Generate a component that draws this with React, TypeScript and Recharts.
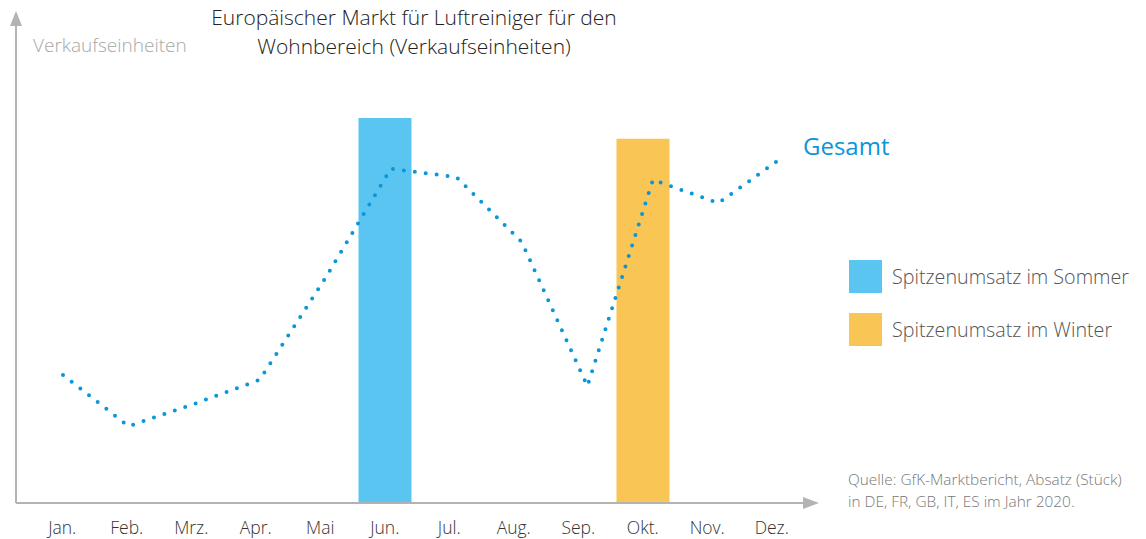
import React from 'react';
import { ComposedChart, Bar, Line, XAxis, YAxis } from 'recharts';

// Monthly categories
const months = ['Jan.', 'Feb.', 'Mrz.', 'Apr.', 'Mai', 'Jun.', 'Jul.', 'Aug.', 'Sep.', 'Okt.', 'Nov.', 'Dez.'];
// Total sales (relative units)
const gesamt = [26.5, 15.9, 20.5, 25.5, 46.5, 69.2, 67.5, 54.0, 24.2, 66.9, 62.1, 71.8];
// Peak bars
const sommer = [null, null, null, null, null, 79.7, null, null, null, null, null, null];
const winter = [null, null, null, null, null, null, null, null, null, 75.4, null, null];

const legendItems = [
    { label: 'Spitzenumsatz im Sommer', color: '#5bc5f2' },
    { label: 'Spitzenumsatz im Winter', color: '#f9c555' },
];

const data = months.map((m, i) => ({
    month: m,
    idx: i,
    gesamt: gesamt[i],
    sommer: sommer[i],
    winter: winter[i],
}));

const FONT = '"Open Sans", "Noto Sans", sans-serif';
const AXIS_GRAY = '#b3b3b3';

export default function App() {
    return (
        <div style={{ position: 'absolute', left: 0, top: 0, width: 1146, height: 539, background: '#fff', fontFamily: FONT }}>
            <ComposedChart
                width={1146}
                height={539}
                data={data}
                margin={{ top: 20, right: 341, left: 15, bottom: 6 }}
            >
                <XAxis
                    dataKey="month"
                    height={30}
                    padding={{ left: 14, right: 1 }}
                    axisLine={{ stroke: AXIS_GRAY, strokeWidth: 2 }}
                    tickLine={false}
                    tickMargin={13}
                    tick={{ fontSize: 17.5, fill: '#333', fontFamily: FONT, fontWeight: 300 }}
                    interval={0}
                />
                <XAxis xAxisId="line" dataKey="idx" type="number" domain={[-0.717, 11.32]} hide />
                <YAxis
                    domain={[0, 100]}
                    width={1}
                    tick={false}
                    tickLine={false}
                    axisLine={{ stroke: AXIS_GRAY, strokeWidth: 2 }}
                />
                <Bar dataKey="sommer" stackId="peak" fill="#5bc5f2" barSize={53} isAnimationActive={false} />
                <Bar dataKey="winter" stackId="peak" fill="#f9c555" barSize={53} isAnimationActive={false} />
                <Line
                    xAxisId="line"
                    type="linear"
                    dataKey="gesamt"
                    stroke="#0a96d9"
                    strokeWidth={4}
                    strokeDasharray="0 11"
                    strokeLinecap="round"
                    dot={false}
                    activeDot={false}
                    isAnimationActive={false}
                />
            </ComposedChart>

            {/* Arrow heads */}
            <svg width={1146} height={539} style={{ position: 'absolute', left: 0, top: 0, pointerEvents: 'none' }}>
                <polygon points="16,11 10,26 22,26" fill={AXIS_GRAY} />
                <polygon points="819,503 803,497 803,509" fill={AXIS_GRAY} />
            </svg>

            {/* Title */}
            <div style={{ position: 'absolute', left: 164, top: 3, width: 500, textAlign: 'center', fontSize: 21, lineHeight: '29px', color: '#222', fontWeight: 300, whiteSpace: 'nowrap' }}>
                Europäischer Markt für Luftreiniger für den<br />Wohnbereich (Verkaufseinheiten)
            </div>

            <div style={{ position: 'absolute', left: 33, top: 32, fontSize: 19, color: '#a8a8a8', fontWeight: 300, whiteSpace: 'nowrap' }}>
                Verkaufseinheiten
            </div>

            <div style={{ position: 'absolute', left: 803, top: 129, fontSize: 24, color: '#0a96d9', fontWeight: 400 }}>
                Gesamt
            </div>

            {/* Legend */}
            {legendItems.map((item, i) => (
                <div key={item.label} style={{ position: 'absolute', left: 849, top: 260 + i * 53, display: 'flex', alignItems: 'center' }}>
                    <div style={{ width: 33, height: 33, background: item.color }} />
                    <span style={{ marginLeft: 10, fontSize: 19.7, color: '#555', fontWeight: 300, whiteSpace: 'nowrap' }}>{item.label}</span>
                </div>
            ))}

            <div style={{ position: 'absolute', left: 848, top: 469, fontSize: 15.4, lineHeight: '22px', color: '#777', fontWeight: 300, whiteSpace: 'nowrap' }}>
                Quelle: GfK-Marktbericht, Absatz (Stück)<br />in DE, FR, GB, IT, ES im Jahr 2020.
            </div>
        </div>
    );
}
